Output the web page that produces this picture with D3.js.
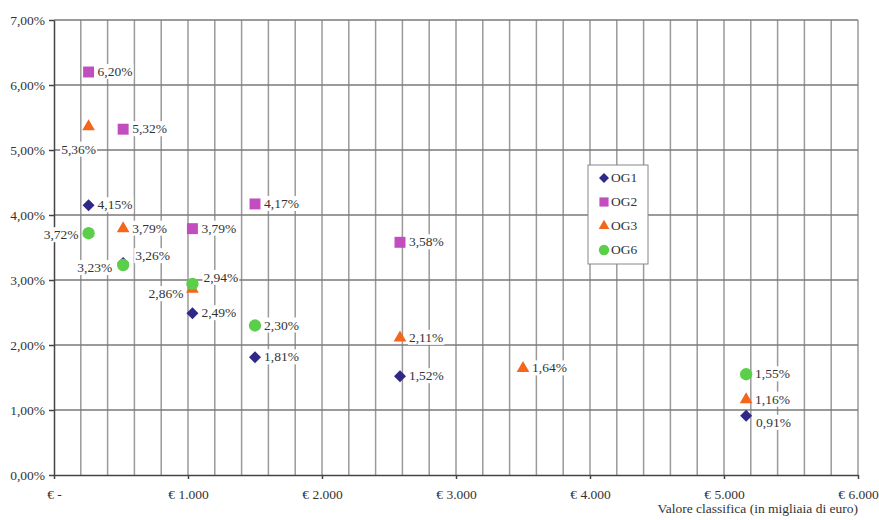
<!DOCTYPE html>
<html>
<head>
<meta charset="UTF-8">
<style>
body { margin: 0; background: #fff; }
svg text { font-family: "Liberation Serif", "Times New Roman", serif; fill: #333; }
.grid line { stroke: #9a9a9a; stroke-width: 1.5px; }
.grid-h line { stroke: #7a7a7a; stroke-width: 1.5px; }
.axis path, .axis line { stroke: #444; stroke-width: 1.5px; }
.axis text { font-size: 13.5px; }
.lbl { font-size: 13.5px; }
</style>
</head>
<body>
<svg width="879" height="520"></svg>
<script src="https://cdn.jsdelivr.net/npm/d3@7"></script>
<script>
// classifica (migliaia di euro)
var classi = [258, 516, 1033, 1500, 2582, 3500, 5165];
var og1 = [4.15, 3.26, 2.49, 1.81, 1.52, null, 0.91];
var og2 = [6.20, 5.32, 3.79, 4.17, 3.58, null, null];
var og3 = [5.36, 3.79, 2.86, null, 2.11, 1.64, 1.16];
var og6 = [3.72, 3.23, 2.94, 2.30, null, null, 1.55];
var serie = ["OG1", "OG2", "OG3", "OG6"];
var xTicks = [0, 1000, 2000, 3000, 4000, 5000, 6000];
var xTickLabels = ["€ -", "€ 1.000", "€ 2.000", "€ 3.000", "€ 4.000", "€ 5.000", "€ 6.000"];
var yTicks = [0, 1, 2, 3, 4, 5, 6, 7];

var colori = {OG1: "#2f2886", OG2: "#c24dbf", OG3: "#f4661c", OG6: "#5ccf4a"};
var simboli = {OG1: d3.symbolSquare, OG2: d3.symbolSquare, OG3: d3.symbolTriangle, OG6: d3.symbolCircle};
var ruota = {OG1: 45, OG2: 0, OG3: 0, OG6: 0};
var taglie = {OG1: 72, OG2: 120, OG3: 70, OG6: 120};

// label placement: [anchor, dx, dy] - default to the right
var posLabel = {
  "OG3-0": ["middle", -10, 27],
  "OG6-0": ["end", -10, 6],
  "OG1-1": ["start", 12, -3],
  "OG6-1": ["end", -11, 7],
  "OG6-2": ["start", 11, -2],
  "OG3-2": ["end", -9, 9],
  "OG1-6": ["start", 10, 11]
};

var svg = d3.select("svg"),
    margin = {top: 20, right: 21, bottom: 45, left: 54},
    width = +svg.attr("width") - margin.left - margin.right,
    height = +svg.attr("height") - margin.top - margin.bottom,
    g = svg.append("g").attr("transform", "translate(" + margin.left + "," + margin.top + ")");

var x = d3.scaleLinear().domain([0, 6000]).range([0, width]),
    y = d3.scaleLinear().domain([0, 7]).range([height, 0]);

var fmt = function(v) { return v.toFixed(2).replace(".", ",") + "%"; };

// vertical grid every 200
g.append("g").attr("class", "grid")
  .selectAll("line").data(d3.range(200, 6001, 200))
  .enter().append("line")
    .attr("x1", function(d) { return x(d); }).attr("x2", function(d) { return x(d); })
    .attr("y1", 0).attr("y2", height);

g.append("g").attr("class", "grid-h")
  .selectAll("line").data(yTicks.slice(1))
  .enter().append("line")
    .attr("x1", 0).attr("x2", width)
    .attr("y1", function(d) { return y(d); }).attr("y2", function(d) { return y(d); });

g.append("g")
    .attr("class", "axis")
    .call(d3.axisLeft(y).tickValues(yTicks).tickSize(5).tickSizeOuter(0).tickPadding(4).tickFormat(fmt));

g.append("g")
    .attr("class", "axis")
    .attr("transform", "translate(0," + height + ")")
    .call(d3.axisBottom(x).tickValues(xTicks).tickSize(4).tickSizeOuter(0).tickPadding(10).tickFormat(function(d, i) { return xTickLabels[i]; }));

svg.append("text")
    .attr("x", margin.left + width)
    .attr("y", 513)
    .attr("text-anchor", "end")
    .style("font-size", "13.5px")
    .text("Valore classifica (in migliaia di euro)");

var dati = {OG1: og1, OG2: og2, OG3: og3, OG6: og6};
var punti = [];
serie.forEach(function(s) {
  dati[s].forEach(function(v, i) {
    if (v != null) punti.push({serie: s, i: i, x: classi[i], y: v});
  });
});

g.selectAll(".punto").data(punti).enter().append("path")
    .attr("class", "punto")
    .attr("transform", function(d) { return "translate(" + x(d.x) + "," + y(d.y) + ") rotate(" + ruota[d.serie] + ")"; })
    .attr("d", function(d) { return d3.symbol().type(simboli[d.serie]).size(taglie[d.serie])(); })
    .attr("fill", function(d) { return colori[d.serie]; });

var etichette = g.selectAll(".etic").data(punti).enter().append("g").attr("class", "etic");
etichette.each(function(d) {
  var p = posLabel[d.serie + "-" + d.i] || ["start", 9, 4];
  var el = d3.select(this);
  var bg = el.append("rect").attr("fill", "#fff");
  var t = el.append("text")
      .attr("class", "lbl")
      .attr("x", x(d.x) + p[1])
      .attr("y", y(d.y) + p[2])
      .attr("text-anchor", p[0])
      .text(fmt(d.y));
  var b = t.node().getBBox();
  bg.attr("x", b.x - 1).attr("y", b.y).attr("width", b.width + 2).attr("height", b.height);
});

// legend
var leg = svg.append("g").attr("transform", "translate(588,165)");
leg.append("rect").attr("width", 60).attr("height", 99).attr("fill", "#fff").attr("stroke", "#888").attr("stroke-width", 1);
serie.forEach(function(s, i) {
  var yy = 13 + i * 24;
  leg.append("path")
      .attr("transform", "translate(16," + yy + ") rotate(" + ruota[s] + ")")
      .attr("d", d3.symbol().type(simboli[s]).size(taglie[s] * 0.7)())
      .attr("fill", colori[s]);
  leg.append("text").attr("x", 23).attr("y", yy + 4).style("font-size", "13.5px").text(s);
});
</script>
</body>
</html>
